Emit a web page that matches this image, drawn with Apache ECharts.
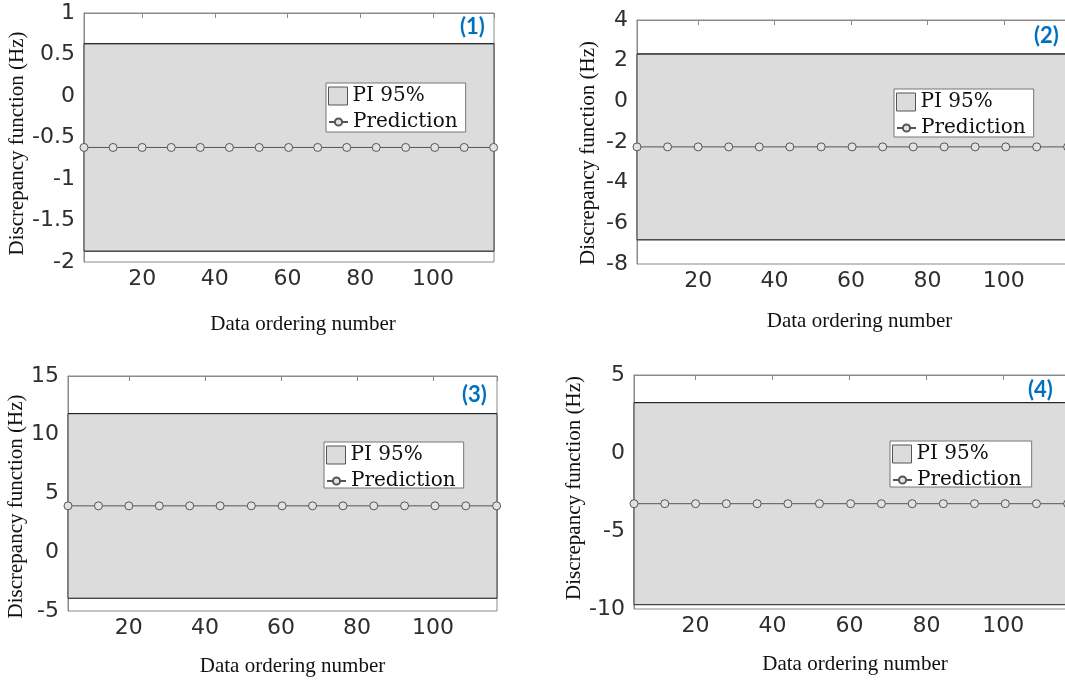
<!DOCTYPE html>
<html>
<head>
<meta charset="utf-8">
<script src="https://cdn.jsdelivr.net/npm/echarts@6/dist/echarts.min.js"></script>
<style>
html,body{margin:0;padding:0;background:#fff;}
#chart{width:1065px;height:681px;}
</style>
</head>
<body>
<div id="chart"></div>
<script>
// ---------------- data ----------------
const panelLabels = ['(1)', '(2)', '(3)', '(4)'];
const xTitle = 'Data ordering number';
const yTitle = 'Discrepancy function (Hz)';
const legendNames = ['PI 95%', 'Prediction'];

// x positions of the prediction markers (data ordering number)
const markerX = [4, 12, 20, 28, 36, 44, 52.2, 60.3, 68.3, 76.3, 84.4, 92.5, 100.5, 108.6, 116.7];
// x extent of the prediction-interval band
const bandX = [4, 116.8];
const xMin = 4;
const xMax = 116.8;

// panel (1)
const pred1  = [-0.62, -0.62, -0.62, -0.62, -0.62, -0.62, -0.62, -0.62, -0.62, -0.62, -0.62, -0.62, -0.62, -0.62, -0.62];
const upper1 = [0.63, 0.63];
const lower1 = [-1.87, -1.87];
// panel (2)
const pred2  = [-2.24, -2.24, -2.24, -2.24, -2.24, -2.24, -2.24, -2.24, -2.24, -2.24, -2.24, -2.24, -2.24, -2.24, -2.24];
const upper2 = [2.33, 2.33];
const lower2 = [-6.81, -6.81];
// panel (3)
const pred3  = [3.95, 3.95, 3.95, 3.95, 3.95, 3.95, 3.95, 3.95, 3.95, 3.95, 3.95, 3.95, 3.95, 3.95, 3.95];
const upper3 = [11.8, 11.8];
const lower3 = [-3.92, -3.92];
// panel (4)
const pred4  = [-3.25, -3.25, -3.25, -3.25, -3.25, -3.25, -3.25, -3.25, -3.25, -3.25, -3.25, -3.25, -3.25, -3.25, -3.25];
const upper4 = [3.23, 3.23];
const lower4 = [-9.72, -9.72];

// y-axis tick settings
const yMin = [-2, -8, -5, -10];
const yMax = [1, 4, 15, 5];
const yInterval = [0.5, 2, 5, 5];

const preds = [pred1, pred2, pred3, pred4];
const uppers = [upper1, upper2, upper3, upper4];
const lowers = [lower1, lower2, lower3, lower4];

// ---------------- layout / style ----------------
const layout = [
  {left: 84,  top: 13,  width: 410, height: 249, xGap: 52, xShift: 14, yGap: 53, yShift: 6,
   lab: [460, 16], leg: [326, 83, 139, 47]},
  {left: 637, top: 20,  width: 431, height: 244, xGap: 47, xShift: 7,  yGap: 38, yShift: 11,
   lab: [1034, 25], leg: [894, 89, 139, 46]},
  {left: 68,  top: 376, width: 429, height: 235, xGap: 45, xShift: 10, yGap: 37, yShift: 13,
   lab: [462, 384], leg: [324, 442, 139, 44]},
  {left: 634, top: 375, width: 434, height: 234, xGap: 45, xShift: 4,  yGap: 41, yShift: -4,
   lab: [1028, 379], leg: [890, 441, 141, 44]}
];

const frameColor = '#8a8a8a';
const textColor = '#2e2e2e';
const bandColor = '#dcdcdc';
const tickFont = 'DejaVu Sans';
const serifFont = 'Liberation Serif';
const legendFont = 'DejaVu Serif';

const grid = [], xAxis = [], yAxis = [], series = [], legend = [], title = [];

layout.forEach((L, i) => {
  grid.push({left: L.left, top: L.top, width: L.width, height: L.height,
    show: true, borderColor: frameColor, borderWidth: 1, backgroundColor: '#fff',
    containLabel: false, outerBoundsMode: 'none'});

  const padX = L.xShift >= 0 ? [0, 0, 0, 2 * L.xShift] : [0, -2 * L.xShift, 0, 0];
  xAxis.push({
    gridIndex: i, type: 'value', min: xMin, max: xMax, position: 'bottom',
    name: xTitle, nameLocation: 'middle', nameGap: L.xGap,
    nameTextStyle: {fontFamily: serifFont, fontSize: 21, color: '#111', padding: padX},
    axisLine: {show: true, lineStyle: {color: frameColor, width: 1}},
    axisTick: {show: true, inside: true, length: 5, lineStyle: {color: frameColor}},
    axisLabel: {show: true, fontFamily: tickFont, fontSize: 22, color: textColor, margin: 6,
      showMinLabel: false, showMaxLabel: false},
    splitLine: {show: false}
  });
  xAxis.push({
    gridIndex: i, type: 'value', min: xMin, max: xMax, position: 'top',
    axisLine: {show: true, lineStyle: {color: frameColor, width: 1}},
    axisTick: {show: true, inside: true, length: 5, lineStyle: {color: frameColor}},
    axisLabel: {show: false},
    splitLine: {show: false}
  });
  const padY = L.yShift >= 0 ? [0, 2 * L.yShift, 0, 0] : [0, 0, 0, -2 * L.yShift];
  yAxis.push({
    gridIndex: i, type: 'value', min: yMin[i], max: yMax[i], interval: yInterval[i],
    name: yTitle, nameLocation: 'middle', nameGap: L.yGap, nameRotate: 90,
    nameTextStyle: {fontFamily: serifFont, fontSize: 21, color: '#111', padding: padY},
    axisLine: {show: true, lineStyle: {color: frameColor, width: 1}},
    axisTick: {show: false},
    axisLabel: {show: true, fontFamily: tickFont, fontSize: 22, color: textColor, margin: 9},
    splitLine: {show: false}
  });

  // band (upper edge series carries the shaded prediction interval)
  series.push({
    name: legendNames[0], type: 'line', xAxisIndex: 2 * i, yAxisIndex: i,
    data: bandX.map((x, k) => [x, uppers[i][k]]),
    symbol: 'none', lineStyle: {color: '#222', width: 1}, itemStyle: {color: bandColor},
    silent: true, animation: false, z: 3,
    markArea: {
      silent: true,
      itemStyle: {color: bandColor, borderColor: '#333', borderWidth: 1},
      data: [[{xAxis: bandX[0], yAxis: lowers[i][0]}, {xAxis: bandX[1], yAxis: uppers[i][1]}]]
    }
  });
  series.push({
    name: 'PI lower', type: 'line', xAxisIndex: 2 * i, yAxisIndex: i,
    data: bandX.map((x, k) => [x, lowers[i][k]]),
    symbol: 'none', lineStyle: {color: '#444', width: 1},
    silent: true, animation: false, z: 3
  });
  series.push({
    name: legendNames[1], type: 'line', xAxisIndex: 2 * i, yAxisIndex: i,
    data: markerX.map((x, k) => [x, preds[i][k]]),
    symbol: 'circle', symbolSize: 8, showAllSymbol: true,
    lineStyle: {color: '#555', width: 1},
    itemStyle: {color: '#e2e2e2', borderColor: '#555', borderWidth: 1},
    silent: true, animation: false, z: 4
  });

  const [lx, ly, lw, lh] = L.leg;
  // legend box + PI entry
  legend.push({
    data: [{name: legendNames[0], icon: 'rect',
      itemStyle: {color: bandColor, borderColor: '#555', borderWidth: 1}}],
    left: lx, top: ly, orient: 'vertical',
    padding: [3, Math.max(2, lw - 2 - 19 - 5 - 72), lh - 3 - 18, 2],
    itemWidth: 19, itemHeight: 18,
    backgroundColor: '#fff', borderColor: '#777', borderWidth: 1, borderRadius: 0,
    textStyle: {fontFamily: legendFont, fontSize: 20, color: '#111'},
    selectedMode: false, z: 6
  });
  // prediction entry
  legend.push({
    data: [legendNames[1]],
    left: lx + 2, top: ly + 29, orient: 'vertical', padding: 0,
    itemWidth: 19, itemHeight: 9,
    textStyle: {fontFamily: legendFont, fontSize: 20, color: '#111'},
    selectedMode: false, z: 7
  });

  title.push({
    text: panelLabels[i], left: L.lab[0], top: L.lab[1], padding: 0,
    textStyle: {fontFamily: 'Lato', fontWeight: 'bold', fontSize: 22, color: '#0070c0'}
  });
});

const chart = echarts.init(document.getElementById('chart'), null, {renderer: 'canvas'});
chart.setOption({
  animation: false,
  backgroundColor: '#fff',
  title, grid, xAxis, yAxis, legend, series
});
</script>
</body>
</html>
